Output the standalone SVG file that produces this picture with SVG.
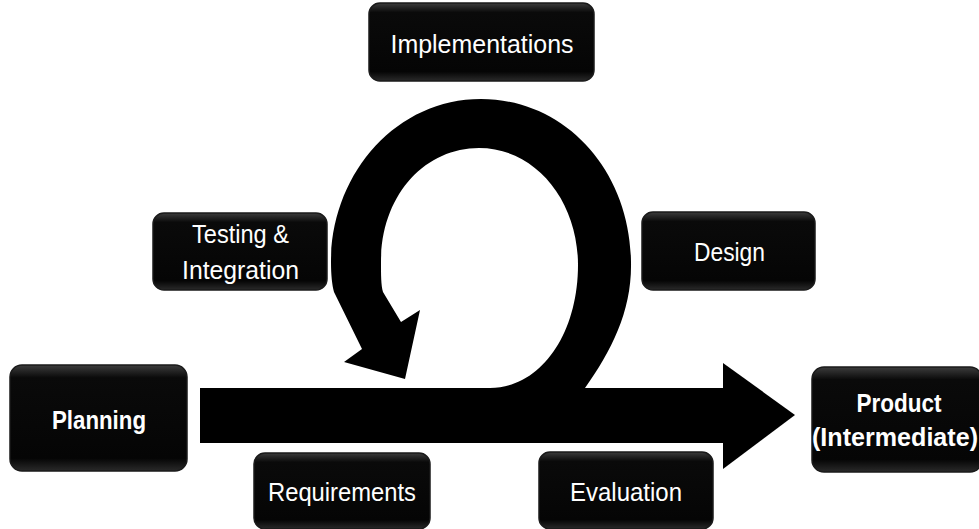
<svg xmlns="http://www.w3.org/2000/svg" width="979" height="529" viewBox="0 0 979 529">
<defs>
<linearGradient id="bevel" x1="0" y1="0" x2="0" y2="1">
<stop offset="0" stop-color="#3c3c3c"/>
<stop offset="0.12" stop-color="#0a0a0a"/>
<stop offset="0.88" stop-color="#050505"/>
<stop offset="1" stop-color="#2a2a2a"/>
</linearGradient>
</defs>
<style>
.box{fill:url(#bevel);stroke:#1a1a1a;stroke-width:1.5}
.t{fill:#ffffff;font-family:"Liberation Sans",Arial,sans-serif;font-size:25px;text-anchor:middle}
.b{font-weight:bold}
.shape{fill:#000000}
</style>
<rect width="979" height="529" fill="#ffffff"/>
<g id="connectors">
<rect class="shape" x="200" y="388" width="525" height="55"/>
<polygon class="shape" points="723,363 795,415 723,469"/>
<path class="shape" d="M 585,388 C 612,350 632,310 631,262 C 630,170 565,99 481,99 C 395,99 331,175 331,262 C 331,275 332,285 334,292 L 362,349 L 344,362 L 405,379 L 420,310 L 401,322 L 383,292 C 381,285 381,275 381,262 C 381,195 425,148 479,148 C 535,148 578,200 578,265 C 578,335 540,388 490,388 Z"/>
</g>
<g id="implementations">
<rect class="box" x="369" y="3" width="225" height="78" rx="11"/>
<text class="t" x="482" y="53" textLength="183" lengthAdjust="spacingAndGlyphs">Implementations</text>
</g>
<g id="testing">
<rect class="box" x="153" y="213" width="174" height="77" rx="11"/>
<text class="t" x="240.5" y="243" textLength="97" lengthAdjust="spacingAndGlyphs">Testing &amp;</text>
<text class="t" x="240.5" y="279" textLength="117" lengthAdjust="spacingAndGlyphs">Integration</text>
</g>
<g id="design">
<rect class="box" x="642" y="212" width="173" height="78" rx="11"/>
<text class="t" x="729.5" y="261" textLength="71" lengthAdjust="spacingAndGlyphs">Design</text>
</g>
<g id="planning">
<rect class="box" x="10" y="365" width="177" height="106" rx="12"/>
<text class="t b" x="99" y="429" textLength="94" lengthAdjust="spacingAndGlyphs">Planning</text>
</g>
<g id="requirements">
<rect class="box" x="254" y="453" width="176" height="76" rx="11"/>
<text class="t" x="342" y="501" textLength="148" lengthAdjust="spacingAndGlyphs">Requirements</text>
</g>
<g id="evaluation">
<rect class="box" x="539" y="452" width="174" height="77" rx="11"/>
<text class="t" x="626" y="501" textLength="112" lengthAdjust="spacingAndGlyphs">Evaluation</text>
</g>
<g id="product">
<rect class="box" x="812" y="367" width="170" height="105" rx="12"/>
<text class="t b" x="899" y="412" textLength="85" lengthAdjust="spacingAndGlyphs">Product</text>
<text class="t b" x="895" y="446" textLength="166" lengthAdjust="spacingAndGlyphs">(Intermediate)</text>
</g>
</svg>
